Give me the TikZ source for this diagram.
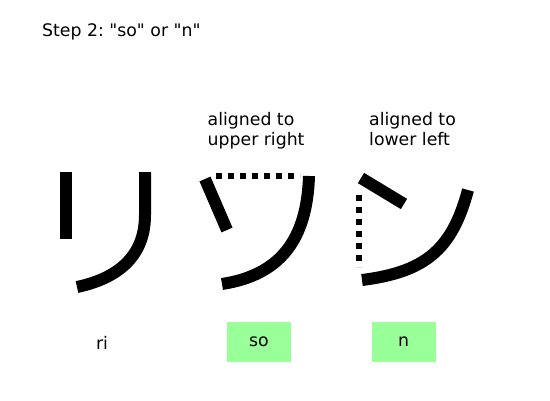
\documentclass[tikz,border=0pt]{standalone}
\usepackage{fontspec}
\setmainfont{DejaVu Sans}
\frenchspacing
\begin{document}
\begin{tikzpicture}[x=1pt,y=-1pt,
  stroke/.style={line width=12pt,line cap=butt,black},
  dots/.style={line width=6pt,dash pattern=on 6pt off 6pt,black},
  lbl/.style={font=\fontsize{17.3}{20}\selectfont,inner sep=0pt},
  greenbox/.style={fill={rgb,255:red,153;green,255;blue,153},minimum width=64pt,minimum height=40pt,inner sep=0pt}]
\useasboundingbox[fill=white] (0,0) rectangle (550,400);
\node[lbl,anchor=base west] (title) at (42,36) {\frenchspacing Step 2: \textquotedbl so\textquotedbl{} or \textquotedbl n\textquotedbl};
% ri
\draw[stroke] (65.5,172) -- (65.5,239);
\draw[stroke] (145,172) -- (145,215) .. controls (145,262) and (110,280) .. (77,287);
% so
\draw[stroke] (205,179) -- (227,230);
\draw[dots] (216,176) -- (300,176);
\draw[stroke] (309,176) .. controls (307,240) and (280,275) .. (222,284);
% n
\draw[stroke] (361,178) -- (404,204);
\draw[dots] (359,195) -- (359,267);
\draw[stroke] (468,190) .. controls (452,250) and (425,272) .. (362,280);
% labels
\node[lbl,anchor=north west,align=left] (ur) at (207.5,112) {aligned to\\upper right};
\node[lbl,anchor=north west,align=left] (ll) at (369,112) {aligned to\\lower left};
\node[lbl] (ri) at (102,343) {ri};
\node[greenbox] (sobox) at (259,342) {};
\node[lbl] (so) at (sobox) {so};
\node[greenbox] (nbox) at (403.5,342) {};
\node[lbl] (n) at (nbox) {n};
\end{tikzpicture}
\end{document}
